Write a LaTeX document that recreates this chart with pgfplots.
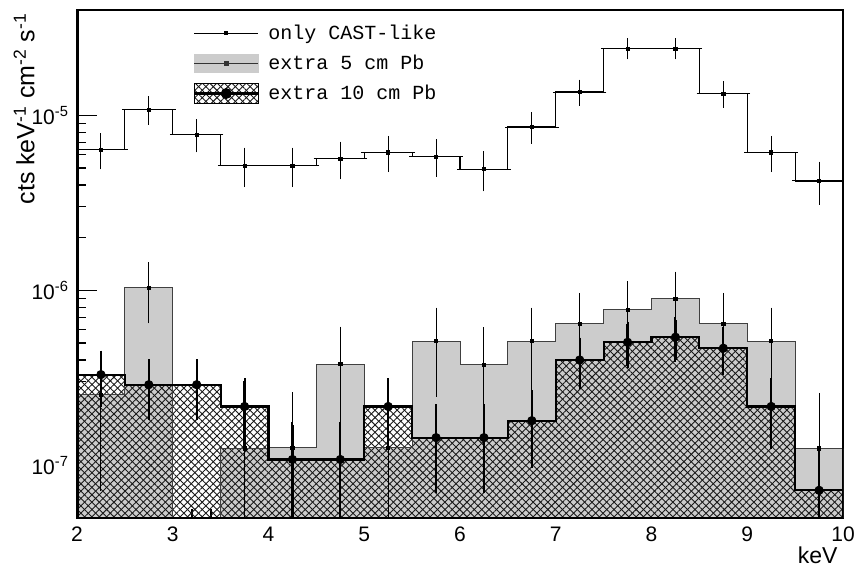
\documentclass[border=0pt]{standalone}
\usepackage{pgfplots}
\pgfplotsset{compat=1.18}
\usepackage{fontspec}
\setmainfont{Liberation Sans}
\setmonofont{Liberation Mono}
\usetikzlibrary{patterns.meta}
\definecolor{fivecm}{gray}{0.8}
\tikzset{
  hatchA/.style={pattern={Lines[angle=45,distance=2.6pt,line width=0.45pt]}, pattern color=black!90},
  hatchB/.style={pattern={Lines[angle=-45,distance=2.6pt,line width=0.45pt]}, pattern color=black!90},
}
\begin{document}
\begin{tikzpicture}
\begin{axis}[
  name=ax,
  scale only axis,
  width=383pt, height=254pt,
  ymode=log, log origin=infty,
  xmin=2, xmax=10, ymin=5e-8, ymax=4e-5,
  xtick={2,3,...,10},
  minor x tick num=4,
  ytick={1e-7,1e-6,1e-5},
  yticklabels={10\textsuperscript{-7},10\textsuperscript{-6},10\textsuperscript{-5}},
  xtick pos=bottom, ytick pos=left,
  major tick length=10pt, minor tick length=4.5pt,
  tick style={black, line width=0.6pt},
  /pgf/number format/assume math mode=true,
  ticklabel style={font=\fontsize{10.5}{12.5}\selectfont},
  yticklabel style={xshift=-0.5pt},
  xticklabel style={yshift=-1pt},
  axis line style={line width=1.2pt},
  ylabel={cts keV\textsuperscript{-1} cm\textsuperscript{-2} s\textsuperscript{-1}},
  ylabel style={at={(axis description cs:-0.069,1.008)}, anchor=east, font=\fontsize{12.5}{14}\selectfont},
  xlabel={keV},
  xlabel style={at={(axis description cs:1.002,-0.073)}, anchor=east, font=\fontsize{11.5}{13}\selectfont},
  legend style={draw=none, fill=none, at={(rel axis cs:0.151,0.982)}, anchor=north west,
     font=\ttfamily\fontsize{10}{12}\selectfont, row sep=1.3pt, inner sep=0pt, nodes={inner sep=2.5pt},
     column sep=2pt},
  legend cell align=left,
]
% legend images
\addlegendimage{legend image code/.code={
  \draw[black, line width=0.5pt, mark=square*, mark size=0.8pt, mark repeat=2, mark phase=2] plot coordinates {(0pt,0pt) (16pt,0pt) (32pt,0pt)};}}
\addlegendentry{only CAST-like}
\addlegendimage{legend image code/.code={
  \fill[fivecm] (0pt,-4.7pt) rectangle (32pt,4.7pt);
  \draw[black!80, line width=0.7pt, mark=square*, mark size=0.8pt, mark repeat=2, mark phase=2] plot coordinates {(0pt,0pt) (16pt,0pt) (32pt,0pt)};}}
\addlegendentry{extra 5 cm Pb}
\addlegendimage{legend image code/.code={
  \path[hatchA] (0pt,-5.2pt) rectangle (32pt,5.2pt);
  \path[hatchB] (0pt,-5.2pt) rectangle (32pt,5.2pt);
  \draw[black, line width=1.2pt, mark=*, mark size=2.1pt, mark repeat=2, mark phase=2] plot coordinates {(0pt,0pt) (16pt,0pt) (32pt,0pt)};}}
\addlegendentry{extra 10 cm Pb}

% extra 5 cm Pb: gray filled histogram
\addplot[const plot, fill=fivecm, draw=none, forget plot] coordinates {
(2,2.53e-7) (2.5,1.035e-6) (3,1e-9) (3.5,1.25e-7) (4,1.26e-7) (4.5,3.79e-7) (5,1.26e-7) (5.5,5.12e-7)
(6,3.76e-7) (6.5,5.12e-7) (7,6.44e-7) (7.5,7.74e-7) (8,8.95e-7) (8.5,6.44e-7) (9,5.12e-7) (9.5,1.25e-7) (10,1.25e-7)
} \closedcycle;
% extra 10 cm Pb: hatched histogram
\addplot[const plot, hatchA, draw=none, forget plot] coordinates {
(2,3.3e-7) (2.5,2.89e-7) (3,2.89e-7) (3.5,2.17e-7) (4,1.08e-7) (4.5,1.08e-7) (5,2.17e-7) (5.5,1.44e-7)
(6,1.44e-7) (6.5,1.8e-7) (7,4.0e-7) (7.5,5.05e-7) (8,5.4e-7) (8.5,4.67e-7) (9,2.17e-7) (9.5,7.2e-8) (10,7.2e-8)
} \closedcycle;
\addplot[const plot, hatchB, draw=none, forget plot] coordinates {
(2,3.3e-7) (2.5,2.89e-7) (3,2.89e-7) (3.5,2.17e-7) (4,1.08e-7) (4.5,1.08e-7) (5,2.17e-7) (5.5,1.44e-7)
(6,1.44e-7) (6.5,1.8e-7) (7,4.0e-7) (7.5,5.05e-7) (8,5.4e-7) (8.5,4.67e-7) (9,2.17e-7) (9.5,7.2e-8) (10,7.2e-8)
} \closedcycle;
% 5 cm outline
\addplot[const plot, black!75, line width=0.5pt, forget plot] coordinates {
(2,2.53e-7) (2.5,1.035e-6) (3,1e-9) (3.5,1.25e-7) (4,1.26e-7) (4.5,3.79e-7) (5,1.26e-7) (5.5,5.12e-7)
(6,3.76e-7) (6.5,5.12e-7) (7,6.44e-7) (7.5,7.74e-7) (8,8.95e-7) (8.5,6.44e-7) (9,5.12e-7) (9.5,1.25e-7) (10,1.25e-7)
};
% 5 cm points with errors
\addplot[only marks, black, mark=square*, mark size=0.8pt, forget plot,
  error bars/.cd, y dir=both, y explicit,
  error bar style={line width=0.5pt}, error mark options={mark size=1.4pt, line width=0.5pt}]
coordinates {
(2.25,2.53e-7) +- (0,1.79e-7)
(2.75,1.035e-6) +- (0,3.64e-7)
(3.75,1.25e-7) += (0,1.25e-7) -= (0,1.2e-7)
(4.25,1.26e-7) += (0,1.26e-7) -= (0,1.21e-7)
(4.75,3.79e-7) +- (0,2.19e-7)
(5.25,1.26e-7) += (0,1.26e-7) -= (0,1.21e-7)
(5.75,5.12e-7) +- (0,2.56e-7)
(6.25,3.76e-7) +- (0,2.17e-7)
(6.75,5.12e-7) +- (0,2.56e-7)
(7.25,6.44e-7) +- (0,2.88e-7)
(7.75,7.74e-7) +- (0,3.16e-7)
(8.25,8.95e-7) +- (0,3.38e-7)
(8.75,6.44e-7) +- (0,2.88e-7)
(9.25,5.12e-7) +- (0,2.56e-7)
(9.75,1.25e-7) += (0,1.25e-7) -= (0,1.2e-7)
};
% 10 cm outline
\addplot[const plot, black, line width=1.1pt, forget plot] coordinates {
(2,3.3e-7) (2.5,2.89e-7) (3,2.89e-7) (3.5,2.17e-7) (4,1.08e-7) (4.5,1.08e-7) (5,2.17e-7) (5.5,1.44e-7)
(6,1.44e-7) (6.5,1.8e-7) (7,4.0e-7) (7.5,5.05e-7) (8,5.4e-7) (8.5,4.67e-7) (9,2.17e-7) (9.5,7.2e-8) (10,7.2e-8)
};
% 10 cm points with errors
\addplot[only marks, black, mark=*, mark size=2.1pt, forget plot,
  error bars/.cd, y dir=both, y explicit,
  error bar style={line width=1.1pt}, error mark options={mark size=1.2pt, line width=1pt}]
coordinates {
(2.25,3.3e-7) +- (0,1.08e-7)
(2.75,2.89e-7) +- (0,1.018e-7)
(3.25,2.89e-7) +- (0,1.018e-7)
(3.75,2.17e-7) +- (0,8.82e-8)
(4.25,1.08e-7) +- (0,6.24e-8)
(4.75,1.08e-7) +- (0,6.24e-8)
(5.25,2.17e-7) +- (0,8.82e-8)
(5.75,1.44e-7) +- (0,7.2e-8)
(6.25,1.44e-7) +- (0,7.2e-8)
(6.75,1.8e-7) +- (0,8.05e-8)
(7.25,4.0e-7) +- (0,1.194e-7)
(7.75,5.05e-7) +- (0,1.347e-7)
(8.25,5.4e-7) +- (0,1.394e-7)
(8.75,4.67e-7) +- (0,1.298e-7)
(9.25,2.17e-7) +- (0,8.82e-8)
(9.75,7.2e-8) +- (0,5.09e-8)
};
% only CAST-like
\addplot[const plot, black, line width=0.6pt, forget plot] coordinates {
(2,6.35e-6) (2.5,1.08e-5) (3,7.75e-6) (3.5,5.17e-6) (4,5.17e-6) (4.5,5.65e-6) (5,6.14e-6) (5.5,5.82e-6)
(6,4.92e-6) (6.5,8.58e-6) (7,1.36e-5) (7.5,2.41e-5) (8,2.41e-5) (8.5,1.33e-5) (9,6.14e-6) (9.5,4.22e-6) (10,4.22e-6)
};
\addplot[only marks, black, mark=square*, mark size=0.8pt, forget plot,
  error bars/.cd, x dir=both, x fixed=0.25, y dir=both, y explicit,
  error bar style={line width=0.5pt}, error mark options={mark size=1.4pt, line width=0.5pt}]
coordinates {
(2.25,6.35e-6) +- (0,1.25e-6)
(2.75,1.08e-5) +- (0,1.63e-6)
(3.25,7.75e-6) +- (0,1.38e-6)
(3.75,5.17e-6) +- (0,1.128e-6)
(4.25,5.17e-6) +- (0,1.128e-6)
(4.75,5.65e-6) +- (0,1.179e-6)
(5.25,6.14e-6) +- (0,1.229e-6)
(5.75,5.82e-6) +- (0,1.197e-6)
(6.25,4.92e-6) +- (0,1.1e-6)
(6.75,8.58e-6) +- (0,1.453e-6)
(7.25,1.36e-5) +- (0,1.829e-6)
(7.75,2.41e-5) +- (0,2.435e-6)
(8.25,2.41e-5) +- (0,2.435e-6)
(8.75,1.33e-5) +- (0,1.809e-6)
(9.25,6.14e-6) +- (0,1.229e-6)
(9.75,4.22e-6) +- (0,1.019e-6)
};
\draw[line width=1.1pt] (rel axis cs:0,0) rectangle (rel axis cs:1,1);
\draw[line width=1.5pt] (rel axis cs:0,1) -- (rel axis cs:0,0) -- (rel axis cs:1,0);
\end{axis}
\pgfresetboundingbox
\path (ax.south west) ++(-38.5pt,-27pt) (ax.north east) ++(7pt,5pt);
\end{tikzpicture}
\end{document}
